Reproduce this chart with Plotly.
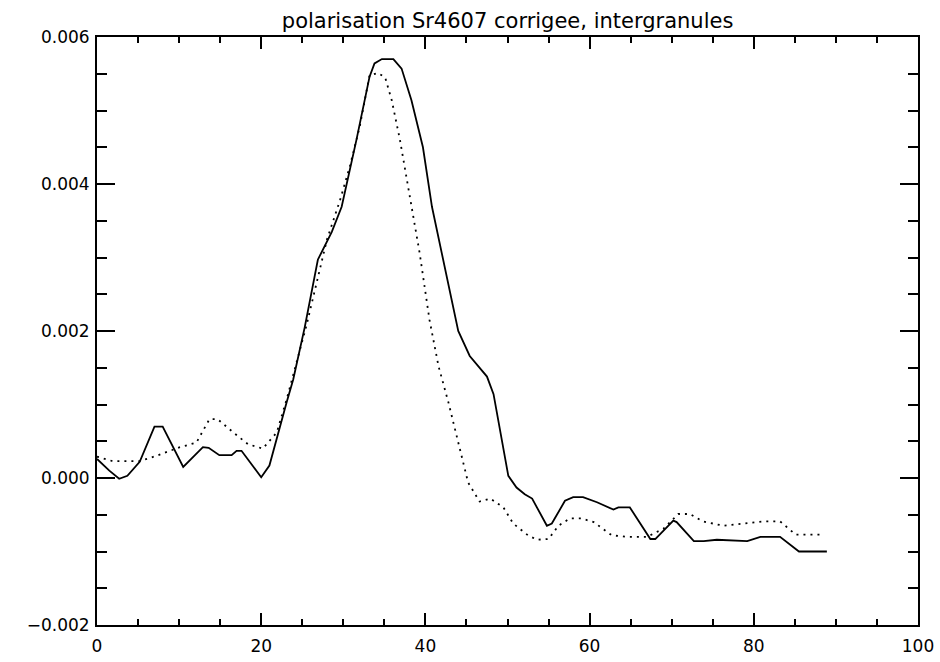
import plotly.graph_objects as go

title_text = "polarisation Sr4607 corrigee, intergranules"

# solid curve
x_solid = [0.0, 1.5, 2.7, 3.7, 5.2, 7.0, 8.0, 10.5, 12.9, 13.6, 14.9, 16.4, 17.0, 17.6, 20.0, 21.0,
           23.1, 23.9, 25.3, 26.9, 28.6, 29.8, 31.6, 33.2, 33.8, 34.7, 36.1, 37.1, 38.3, 39.7,
           40.8, 42.6, 44.0, 45.4, 46.6, 47.5, 48.3, 49.3, 50.1, 51.1, 52.1, 53.0, 54.8, 55.4,
           57.0, 58.0, 59.2, 60.9, 62.9, 63.5, 64.9, 67.4, 68.0, 70.2, 70.6, 72.7, 73.9, 75.5,
           79.2, 80.8, 83.2, 85.5, 88.9]
y_solid = [0.00026, 0.00010, -0.00001, 0.00003, 0.00022, 0.00070, 0.00070, 0.00015, 0.00042, 0.00041,
           0.00031, 0.00031, 0.00037, 0.00037, 0.00001, 0.00017,
           0.00103, 0.00134, 0.00205, 0.00297, 0.00335, 0.00369, 0.00460, 0.00546, 0.00564, 0.00570,
           0.00570, 0.00557, 0.00514, 0.00450, 0.00369, 0.00275, 0.00200, 0.00166, 0.00150, 0.00138,
           0.00114, 0.00050, 0.00003, -0.00013, -0.00022, -0.00028, -0.00065, -0.00062,
           -0.00031, -0.00026, -0.00026, -0.00033, -0.00043, -0.00040, -0.00040, -0.00083, -0.00083,
           -0.00058, -0.00060, -0.00086, -0.00086, -0.00084, -0.00086, -0.00080, -0.00080, -0.00100,
           -0.00100]

# dotted curve
x_dot = [0.0, 1.9, 5.2, 7.2, 10.1, 12.1, 13.7, 14.7, 16.6, 18.4, 20.2, 21.9, 23.1, 25.5, 28.0, 29.6,
         30.8, 32.0, 33.2, 34.2, 35.1, 35.9, 36.9, 37.9, 39.3, 40.5, 41.6, 42.8, 44.0, 45.2,
         46.6, 47.9, 49.5, 50.7, 52.5, 53.6, 55.0, 56.2, 57.6, 59.0, 60.5, 62.7, 64.5, 67.0,
         69.0, 70.8, 72.2, 73.8, 76.3, 79.2, 81.2, 83.2, 85.1, 88.5]
y_dot = [0.00029, 0.00023, 0.00023, 0.00030, 0.00042, 0.00048, 0.00080, 0.00080, 0.00062, 0.00046,
         0.00040, 0.00062, 0.00107, 0.00207, 0.00324, 0.00378,
         0.00424, 0.00478, 0.00548, 0.00551, 0.00545, 0.00514, 0.00460, 0.00396, 0.00306, 0.00215,
         0.00152, 0.00103, 0.00048, -0.00006, -0.00032, -0.00028, -0.00040, -0.00062, -0.00078,
         -0.00084, -0.00083, -0.00065, -0.00055, -0.00055, -0.00060, -0.00078, -0.00080, -0.00080,
         -0.00069, -0.00049, -0.00049, -0.00059, -0.00065, -0.00062, -0.00059, -0.00059, -0.00077,
         -0.00077]

x_ticks = [0, 20, 40, 60, 80, 100]
y_ticks = [-0.002, 0.000, 0.002, 0.004, 0.006]

font_family = "DejaVu Sans"

fig = go.Figure()
fig.add_trace(go.Scatter(x=x_solid, y=y_solid, mode="lines",
                         line=dict(color="black", width=1.8), showlegend=False))
fig.add_trace(go.Scatter(x=x_dot, y=y_dot, mode="lines",
                         line=dict(color="black", width=1.8, dash="2px,5px"), showlegend=False))

fig.update_layout(
    width=940, height=662,
    margin=dict(l=97, r=22, t=37, b=37),
    paper_bgcolor="white", plot_bgcolor="white",
    font=dict(family=font_family, size=17, color="black"),
    title=dict(text=title_text, x=0.54, xanchor="center", y=1 - 21 / 662, yanchor="middle",
               yref="container", font=dict(family=font_family, size=21, color="black")),
    xaxis=dict(range=[0, 100], tickmode="array", tickvals=x_ticks,
               ticktext=[str(v) for v in x_ticks], automargin=False,
               showgrid=False, zeroline=False, showline=True, linecolor="black", linewidth=2,
               mirror="allticks", ticks="inside", ticklen=12, tickwidth=1.5, tickcolor="black",
               minor=dict(dtick=5, tick0=0, ticks="inside", ticklen=6, tickwidth=1.5,
                          tickcolor="black", showgrid=False),
               ticklabelstandoff=5,
               tickfont=dict(size=17)),
    yaxis=dict(range=[-0.002, 0.006], tickmode="array", tickvals=y_ticks,
               ticktext=[("\u2212" if v < 0 else "") + f"{abs(v):.3f}" for v in y_ticks],
               automargin=False,
               showgrid=False, zeroline=False, showline=True, linecolor="black", linewidth=2,
               mirror="allticks", ticks="inside", ticklen=18, tickwidth=1.5, tickcolor="black",
               minor=dict(dtick=0.0005, tick0=0, ticks="inside", ticklen=10, tickwidth=1.5,
                          tickcolor="black", showgrid=False),
               ticklabelstandoff=2,
               tickfont=dict(size=17)),
)

fig.write_html("out.html")
